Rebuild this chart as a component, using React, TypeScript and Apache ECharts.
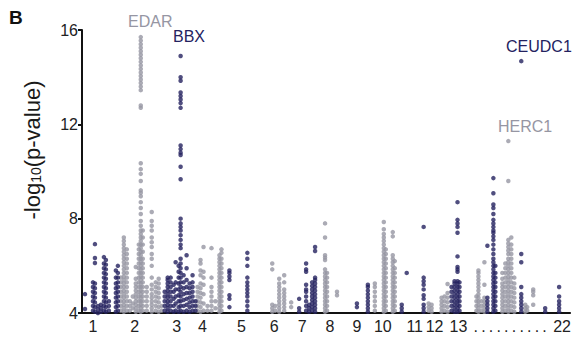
import React, { useEffect, useRef } from "react";
import * as echarts from "echarts";

const NAVY = "#24225f";
const GRAY = "#9696a3";
const FONT = "'Liberation Sans', Arial, Helvetica, sans-serif";

// chromosome label positions along the genome axis (0..490)
const chromLabels = ["1", "2", "3", "4", "5", "6", "7", "8", "9", "10", "11", "12", "13",
  ".\u2009.\u2009.\u2009.\u2009.\u2009.\u2009.\u2009.\u2009.\u2009.\u2009\u200922"];
const chromLabelPos = [11, 53, 95, 121, 160, 193, 221, 249, 276, 302, 334, 354, 378, 442];

// -log10(p) values per SNP column: [genome position, values]
const navyColumns: [number, number[]][] = [
  [3, [4.17, 4.8]],
  [11, [4.1, 4.3, 4.5, 4.7, 4.9, 5.1, 5.3]],
  [13, [4.05, 4.25, 4.45, 4.65, 4.85, 5.05, 5.25, 6.12, 6.33, 6.92]],
  [16, [4.0, 4.15, 4.3]],
  [19, [4.05, 4.2, 4.35]],
  [22, [4.1, 4.3, 4.5, 4.7, 4.9, 5.1, 5.3, 5.5, 5.7, 5.9, 6.1, 6.37]],
  [24, [4.05, 4.25, 4.45, 4.65, 4.85, 5.05, 5.25, 5.45, 5.65, 5.85, 6.05, 6.25]],
  [27, [4.1, 4.3, 4.5]],
  [34, [4.05, 4.25, 4.45, 4.65, 4.85, 5.05, 5.25, 5.5, 5.8]],
  [36, [4.1, 4.3, 4.5, 4.7, 4.9, 5.1, 5.3, 5.5, 5.7, 6.0]],
  [83, [4.1, 4.3, 4.5, 4.7, 4.9]],
  [86, [4.05, 4.2, 4.35, 4.5, 4.65, 4.8, 4.95, 5.1, 5.25, 5.4, 5.5]],
  [89, [4.1, 4.3, 4.5, 4.7, 4.9, 5.1, 5.3, 5.5]],
  [92, [4.05, 4.3, 4.6, 4.9, 5.2]],
  [94, [4.1, 4.4, 4.7, 5.0, 5.3, 6.15]],
  [97, [4.05, 4.25, 4.5, 4.75, 5.0, 5.25, 5.5, 5.75, 6.0]],
  [99, [4.1, 4.3, 4.5, 4.7, 4.9, 5.1, 5.3, 5.5, 5.7, 5.9, 6.1, 6.3, 6.75, 6.9, 7.1, 7.3, 7.5, 7.65, 7.8, 8.0,
    9.67, 10.2, 10.7, 10.8, 10.95, 11.1, 12.7, 12.9, 13.05, 13.2, 13.35, 13.85, 14.0, 14.9]],
  [102, [4.05, 4.3, 4.55, 4.8, 5.05, 5.3, 5.6]],
  [105, [4.1, 4.35, 4.6, 4.85, 5.1, 5.4, 5.9, 6.45]],
  [108, [4.05, 4.25, 4.45, 4.65, 4.85, 5.05, 5.25]],
  [111, [4.1, 4.3, 4.5, 4.7, 4.9, 5.1, 5.3, 5.6]],
  [114, [4.1, 4.3, 4.5]],
  [148, [4.25, 4.6, 4.75, 5.4, 5.55, 5.7, 5.8]],
  [166, [4.1, 4.3, 4.5, 4.7, 4.85, 5.0, 5.15, 5.3, 5.5, 6.0, 6.3, 6.55]],
  [218, [4.05, 4.2, 4.6]],
  [225, [4.1, 4.3, 4.5, 4.7, 4.9, 5.0, 5.2, 5.75, 5.85, 6.1]],
  [228, [4.05, 4.2, 4.35]],
  [231, [4.1, 4.25, 4.4, 4.55, 4.7, 4.85, 5.0, 5.15, 5.3]],
  [234, [4.05, 4.2, 4.35, 4.5, 4.65, 4.8, 4.95, 5.1, 5.25, 5.4, 5.5, 6.63, 6.8]],
  [276, [4.25, 4.4]],
  [287, [4.05, 4.2, 4.35, 4.5, 4.65, 4.8, 4.95, 5.1, 5.2]],
  [321, [4.05, 4.2, 4.35]],
  [326, [5.7]],
  [343, [4.05, 4.2, 4.35, 4.6, 4.75, 5.0, 5.2, 5.35, 5.5, 7.65]],
  [371, [4.1, 4.3, 4.5, 4.7, 4.9, 5.1]],
  [374, [4.05, 4.2, 4.35, 4.5, 4.65, 4.8, 4.95, 5.1, 5.25, 5.35]],
  [377, [4.05, 4.2, 4.35, 4.5, 4.65, 4.8, 4.95, 5.1, 5.25, 5.35, 5.75, 5.85, 5.95, 6.4, 7.4, 7.65, 7.8, 7.95, 8.7]],
  [379, [4.1, 4.3, 4.5, 4.7, 4.9, 5.1, 5.3]],
  [407, [4.05, 4.2, 4.35, 4.5, 4.65, 6.85]],
  [413, [4.05, 4.2, 4.35, 4.5, 4.65, 4.8, 4.95, 5.1, 5.25, 5.4, 5.55, 5.7, 5.85, 6.0, 6.15, 6.3, 6.5, 6.7, 6.9,
    7.1, 7.25, 7.4, 7.5, 7.65, 7.8, 7.95, 8.2, 8.45, 8.6, 9.08, 9.72]],
  [415, [4.1, 4.3, 4.5, 4.7, 4.9, 5.1, 5.3, 5.5, 5.7, 6.0]],
  [441, [4.05, 4.2, 4.35, 4.5, 4.65, 4.8, 5.1, 6.15, 6.5, 14.68]],
  [465, [4.05, 4.2]],
  [479, [4.05, 4.2, 4.35, 4.5, 4.7, 5.1]],
];

const grayColumns: [number, number[]][] = [
  [39, [4.1, 4.3, 4.5, 4.7, 4.9, 5.1, 5.3, 5.5]],
  [42, [4.05, 4.2, 4.35, 4.5, 4.65, 4.8, 4.95, 5.1, 5.25, 5.4, 5.55, 5.7, 5.85, 6.0, 6.15, 6.3, 6.45, 6.6, 6.75, 6.9, 7.05, 7.2]],
  [45, [4.1, 4.3, 4.5, 4.7, 4.9, 5.1, 5.3, 5.5, 5.7, 5.9, 6.1, 6.3, 6.5, 6.7]],
  [48, [4.1, 4.3, 4.5]],
  [51, [4.2, 4.4, 4.7]],
  [54, [4.05, 4.2, 4.35, 4.5, 4.65, 4.8, 4.95, 5.1, 5.25, 5.45, 5.95]],
  [57, [4.1, 4.3, 4.5, 4.7, 4.9, 5.1, 5.3, 5.5, 5.7, 5.9, 6.1, 6.3, 6.5, 6.7, 6.9]],
  [59, [4.05, 4.2, 4.35, 4.5, 4.65, 4.8, 4.95, 5.1, 5.25, 5.4, 5.55, 5.7, 5.85, 6.0, 6.15, 6.3, 6.45, 6.6, 6.75,
    6.9, 7.05, 7.2, 7.35, 7.5, 7.7, 7.9, 8.2, 8.45, 8.7, 8.95, 9.1, 9.2, 9.6, 9.9, 10.1, 10.35, 12.7, 12.8,
    13.45, 13.6, 13.75, 13.9, 14.05, 14.2, 14.35, 14.5, 14.65, 14.8, 14.95, 15.1, 15.25, 15.4, 15.55, 15.7]],
  [61, [4.1, 4.3, 4.5, 4.7, 4.9, 5.1, 5.3, 5.5, 5.7, 5.9, 6.1, 6.3, 6.6, 6.9, 7.2, 7.5]],
  [65, [4.1, 4.3, 4.5, 4.7, 4.9, 5.1]],
  [70, [4.05, 4.2, 4.35, 4.5, 4.65, 4.8, 5.0, 5.2, 5.5, 6.0, 6.3, 6.5, 6.8, 7.0, 7.2, 7.5, 7.7, 7.9, 8.28]],
  [74, [4.1, 4.3, 4.5, 4.7, 4.9, 5.1, 5.3]],
  [77, [4.05, 4.25, 4.45, 4.65, 4.85, 5.05, 5.25, 5.45]],
  [80, [4.1, 4.3]],
  [116, [4.1, 4.3, 4.5, 4.7, 4.9, 5.1]],
  [119, [4.05, 4.25, 4.45, 4.65, 4.85, 5.05, 5.25, 5.6, 5.8, 6.1, 6.25]],
  [122, [4.1, 4.4, 4.8, 5.2, 5.5, 5.75, 6.8]],
  [126, [4.1, 4.3]],
  [130, [4.1, 4.3, 4.5, 4.7, 4.9, 5.1, 5.5, 6.75]],
  [134, [4.2, 4.5]],
  [138, [4.05, 4.2, 4.35, 4.5, 4.65, 4.8, 4.95, 5.1, 5.25, 5.4, 5.55, 5.7, 5.85, 6.0, 6.15, 6.3, 6.45]],
  [140, [4.1, 4.3, 4.5, 4.7, 4.9, 5.1, 5.3, 5.5, 5.7, 5.9, 6.1, 6.3, 6.55, 6.7]],
  [191, [4.05, 4.2, 4.35, 5.85, 6.1]],
  [194, [4.1, 4.3]],
  [198, [4.05, 4.2, 4.35, 4.5, 4.65, 4.8, 4.95, 5.1, 5.25, 5.45]],
  [203, [4.1, 4.25, 4.4, 4.55, 4.7, 4.85, 5.0, 5.3, 5.6]],
  [210, [4.25, 4.45]],
  [244, [4.05, 4.2, 4.35, 4.5, 4.65, 4.8, 4.95, 5.1, 5.25, 5.4, 5.55, 5.7, 5.85, 6.25, 6.35, 6.45, 7.2, 7.8]],
  [246, [4.1, 4.3, 4.5, 4.7, 4.9, 5.1, 5.3, 5.5, 5.7]],
  [256, [4.75, 4.9]],
  [294, [4.1, 4.3, 4.5, 4.7, 4.9, 5.1, 5.25]],
  [303, [4.05, 4.2, 4.35, 4.5, 4.65, 4.8, 4.95, 5.1, 5.25, 5.4, 5.55, 5.7, 5.85, 6.0, 6.15, 6.3, 6.45, 6.6,
    6.75, 6.9, 7.05, 7.2, 7.35, 7.55, 7.86]],
  [305, [4.1, 4.3, 4.5, 4.7, 4.9, 5.1, 5.3, 5.5, 5.7, 5.9, 6.1, 6.3, 6.5, 6.7]],
  [312, [4.05, 4.2, 4.35, 4.5, 4.65, 4.8, 4.95, 5.1, 5.25, 5.4, 5.55, 5.7, 5.85, 6.0, 6.15, 6.3, 6.45, 7.25, 7.43]],
  [314, [4.1, 4.3, 4.5, 4.7, 4.9, 5.1, 5.3, 5.5, 5.7, 5.9, 6.2]],
  [348, [4.1, 4.25, 4.4]],
  [351, [4.05, 4.2, 4.35]],
  [361, [4.05, 4.2, 4.35, 4.5, 4.65]],
  [364, [4.1, 4.3, 4.5, 4.7]],
  [367, [4.05, 4.25, 4.45, 4.65, 4.85, 5.23]],
  [396, [4.1, 4.3, 4.5, 4.7]],
  [398, [4.05, 4.2, 4.35, 4.5, 4.65, 4.8, 4.95, 5.1, 5.25, 5.4, 5.55, 5.7, 5.8]],
  [401, [4.1, 4.3, 4.5]],
  [404, [4.05, 4.2, 4.35, 4.5, 4.65, 5.2, 6.15]],
  [422, [4.05, 4.2, 4.35, 4.5, 4.65, 4.8, 4.95, 5.1, 5.25, 5.45, 5.7]],
  [425, [4.1, 4.3, 4.5, 4.7, 4.9, 5.1, 5.3, 5.5, 5.7, 5.9, 6.1]],
  [428, [4.05, 4.2, 4.35, 4.5, 4.65, 4.8, 4.95, 5.1, 5.25, 5.4, 5.55, 5.7, 5.85, 6.0, 6.15, 6.3, 6.5, 6.65,
    6.8, 6.95, 7.1, 9.6, 11.29]],
  [431, [4.1, 4.3, 4.5, 4.7, 4.9, 5.1, 5.3, 5.5, 5.7, 5.9, 6.1, 6.3, 6.5, 6.7, 6.9, 7.2]],
  [434, [4.05, 4.25, 4.45, 4.65, 4.85, 5.05, 5.25, 5.5]],
  [445, [4.05, 4.2, 4.35]],
  [447, [4.1, 4.25]],
  [453, [4.35, 4.75, 4.9, 5.0]],
];

const toPoints = (cols: [number, number[]][]) =>
  cols.flatMap(([pos, vals]) => vals.map((v) => [pos, v]));

export default function App() {
  const ref = useRef<HTMLDivElement>(null);
  useEffect(() => {
    if (!ref.current) return;
    const chart = echarts.init(ref.current, undefined, { renderer: "svg" });
    const labelMap = new Map<number, string>();
    chromLabelPos.forEach((p, i) => labelMap.set(p, chromLabels[i]));
    const geneText = (text: string, x: number, y: number, fill: string) => ({
      type: "text",
      x,
      y,
      style: { text, fill, fontSize: 16, fontFamily: FONT, align: "left", verticalAlign: "middle" },
    });
    chart.setOption({
      animation: false,
      grid: { left: 82, right: 2, top: 30, bottom: 24 },
      xAxis: {
        type: "value",
        min: 0,
        max: 490,
        axisLine: { show: true, lineStyle: { color: "#111", width: 2 } },
        axisTick: { show: false },
        splitLine: { show: false },
        axisLabel: {
          customValues: chromLabelPos,
          formatter: (v: number) => labelMap.get(v) ?? "",
          fontSize: 16,
          fontFamily: FONT,
          color: "#222",
          margin: 5,
          hideOverlap: false,
        },
      },
      yAxis: {
        type: "value",
        min: 4,
        max: 16,
        interval: 4,
        axisLine: { show: true, lineStyle: { color: "#111", width: 2 } },
        axisTick: { show: true, length: 4, lineStyle: { color: "#111", width: 2 } },
        splitLine: { show: false },
        axisLabel: { fontSize: 16, fontFamily: FONT, color: "#222", margin: 4 },
      },
      series: [
        {
          type: "scatter",
          data: toPoints(grayColumns),
          symbolSize: 4.5,
          itemStyle: { color: GRAY },
        },
        {
          type: "scatter",
          data: toPoints(navyColumns),
          symbolSize: 4.5,
          itemStyle: { color: NAVY },
        },
      ],
      graphic: [
        {
          type: "text",
          x: 9,
          y: 17,
          style: { text: "B", fill: "#111", fontSize: 19, fontWeight: "bold", fontFamily: FONT, verticalAlign: "middle" },
        },
        {
          type: "text",
          x: 32,
          y: 150,
          rotation: Math.PI / 2,
          style: {
            text: "-log{s|10}(p-value)",
            fill: "#1a1a1a",
            fontSize: 22,
            fontFamily: FONT,
            align: "center",
            verticalAlign: "middle",
            rich: { s: { fontSize: 14, fontFamily: FONT, fill: "#1a1a1a", verticalAlign: "bottom", padding: [6, 0, 0, 0] } },
          },
        },
        geneText("EDAR", 128, 21, GRAY),
        geneText("BBX", 173, 36, NAVY),
        geneText("CEUDC1", 506, 46, NAVY),
        geneText("HERC1", 498, 126, GRAY),
      ],
    });
    return () => chart.dispose();
  }, []);
  return <div ref={ref} style={{ width: 574, height: 337, position: "absolute", left: 0, top: 0 }} />;
}
